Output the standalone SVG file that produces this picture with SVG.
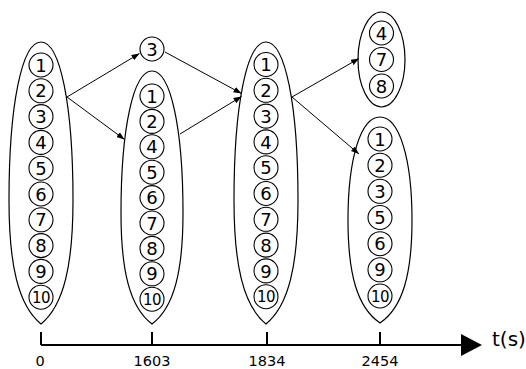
<svg xmlns="http://www.w3.org/2000/svg" width="526" height="369" viewBox="0 0 526 369">
<style>
.grp{fill:none;stroke:#000;stroke-width:1.2}
.c{fill:#fff;stroke:#000;stroke-width:1.1}
.n{font-family:"DejaVu Sans",sans-serif;font-size:18px;text-anchor:middle;fill:#000}
.n10{font-family:"DejaVu Sans",sans-serif;font-size:15px;text-anchor:middle;fill:#000;letter-spacing:-0.5px}
.ax{font-family:"DejaVu Sans",sans-serif;font-size:14.5px;text-anchor:middle;fill:#000}
.edge{fill:none;stroke:#000;stroke-width:1;marker-end:url(#ah)}
.axis{fill:none;stroke:#000;stroke-width:2}
</style>
<defs>
<marker id="ah" markerUnits="userSpaceOnUse" markerWidth="8" markerHeight="6" refX="8" refY="3" orient="auto">
<path d="M0,0 L8,3 L0,6 Z" fill="#000"/>
</marker>
</defs>

<g id="connectors">
<line class="edge" x1="67" y1="97" x2="139.5" y2="53.5"/>
<line class="edge" x1="67" y1="97" x2="124.5" y2="139.5"/>
<line class="edge" x1="165" y1="52" x2="241.5" y2="93.5"/>
<line class="edge" x1="180" y1="134" x2="241.5" y2="96.5"/>
<line class="edge" x1="292" y1="97" x2="359" y2="58.5"/>
<line class="edge" x1="292" y1="97" x2="359" y2="154"/>
</g>

<g id="group-0">
<path class="grp" d="M 41,42 C 60.2,42 73,105.2 73,200 C 73,264.5 64,305.4 41,324 C 18,305.4 9,264.5 9,200 C 9,105.2 21.8,42 41,42 Z"/>
<circle class="c" cx="41" cy="65" r="12"/><text class="n" x="41" y="71.6">1</text>
<circle class="c" cx="41" cy="90.8" r="12"/><text class="n" x="41" y="97.4">2</text>
<circle class="c" cx="41" cy="116.6" r="12"/><text class="n" x="41" y="123.2">3</text>
<circle class="c" cx="41" cy="142.4" r="12"/><text class="n" x="41" y="149">4</text>
<circle class="c" cx="41" cy="168.2" r="12"/><text class="n" x="41" y="174.8">5</text>
<circle class="c" cx="41" cy="194" r="12"/><text class="n" x="41" y="200.6">6</text>
<circle class="c" cx="41" cy="219.8" r="12"/><text class="n" x="41" y="226.4">7</text>
<circle class="c" cx="41" cy="245.6" r="12"/><text class="n" x="41" y="252.2">8</text>
<circle class="c" cx="41" cy="271.4" r="12"/><text class="n" x="41" y="278">9</text>
<circle class="c" cx="41" cy="297.2" r="12"/><text class="n10" x="41" y="302.7">10</text>
</g>

<g id="node-3">
<circle class="c" cx="152" cy="49" r="12"/><text class="n" x="152" y="55.6">3</text>
</g>

<g id="group-1603">
<path class="grp" d="M 152,71 C 170.6,71 183,127.8 183,213 C 183,270.7 174.3,307.4 152,324 C 129.7,307.4 121,270.7 121,213 C 121,127.8 133.4,71 152,71 Z"/>
<circle class="c" cx="152" cy="96" r="12"/><text class="n" x="152" y="102.6">1</text>
<circle class="c" cx="152" cy="121.4" r="12"/><text class="n" x="152" y="128">2</text>
<circle class="c" cx="152" cy="146.8" r="12"/><text class="n" x="152" y="153.4">4</text>
<circle class="c" cx="152" cy="172.2" r="12"/><text class="n" x="152" y="178.8">5</text>
<circle class="c" cx="152" cy="197.6" r="12"/><text class="n" x="152" y="204.2">6</text>
<circle class="c" cx="152" cy="223" r="12"/><text class="n" x="152" y="229.6">7</text>
<circle class="c" cx="152" cy="248.4" r="12"/><text class="n" x="152" y="255">8</text>
<circle class="c" cx="152" cy="273.8" r="12"/><text class="n" x="152" y="280.4">9</text>
<circle class="c" cx="152" cy="299.2" r="12"/><text class="n10" x="152" y="304.7">10</text>
</g>

<g id="group-1834">
<path class="grp" d="M 266,42 C 285.2,42 298,105.2 298,200 C 298,264.5 289,305.4 266,324 C 243,305.4 234,264.5 234,200 C 234,105.2 246.8,42 266,42 Z"/>
<circle class="c" cx="266" cy="64.5" r="12"/><text class="n" x="266" y="71.1">1</text>
<circle class="c" cx="266" cy="90.3" r="12"/><text class="n" x="266" y="96.9">2</text>
<circle class="c" cx="266" cy="116.1" r="12"/><text class="n" x="266" y="122.7">3</text>
<circle class="c" cx="266" cy="141.9" r="12"/><text class="n" x="266" y="148.5">4</text>
<circle class="c" cx="266" cy="167.7" r="12"/><text class="n" x="266" y="174.3">5</text>
<circle class="c" cx="266" cy="193.5" r="12"/><text class="n" x="266" y="200.1">6</text>
<circle class="c" cx="266" cy="219.3" r="12"/><text class="n" x="266" y="225.9">7</text>
<circle class="c" cx="266" cy="245.1" r="12"/><text class="n" x="266" y="251.7">8</text>
<circle class="c" cx="266" cy="270.9" r="12"/><text class="n" x="266" y="277.5">9</text>
<circle class="c" cx="266" cy="296.7" r="12"/><text class="n10" x="266" y="302.2">10</text>
</g>

<g id="group-2454-a">
<ellipse class="grp" cx="381.5" cy="59.5" rx="23.5" ry="47.5"/>
<circle class="c" cx="381.5" cy="33" r="12"/><text class="n" x="381.5" y="39.6">4</text>
<circle class="c" cx="381.5" cy="59.5" r="12"/><text class="n" x="381.5" y="66.1">7</text>
<circle class="c" cx="381.5" cy="86" r="12"/><text class="n" x="381.5" y="92.6">8</text>
</g>

<g id="group-2454-b">
<path class="grp" d="M 380,117 C 399.2,117 412,158.2 412,220 C 412,273.6 403,307.5 380,323 C 357,307.5 348,273.6 348,220 C 348,158.2 360.8,117 380,117 Z"/>
<circle class="c" cx="380" cy="139" r="12"/><text class="n" x="380" y="145.6">1</text>
<circle class="c" cx="380" cy="165.2" r="12"/><text class="n" x="380" y="171.8">2</text>
<circle class="c" cx="380" cy="191.3" r="12"/><text class="n" x="380" y="197.9">3</text>
<circle class="c" cx="380" cy="217.5" r="12"/><text class="n" x="380" y="224.1">5</text>
<circle class="c" cx="380" cy="243.7" r="12"/><text class="n" x="380" y="250.3">6</text>
<circle class="c" cx="380" cy="269.8" r="12"/><text class="n" x="380" y="276.4">9</text>
<circle class="c" cx="380" cy="296" r="12"/><text class="n10" x="380" y="301.5">10</text>
</g>

<g id="axis">
<line class="axis" x1="41" y1="345" x2="462" y2="345"/>
<path d="M461,334 L482,345 L461,356 Z" fill="#000"/>
<line class="axis" x1="41" y1="332" x2="41" y2="345"/>
<line class="axis" x1="152" y1="332" x2="152" y2="345"/>
<line class="axis" x1="267" y1="332" x2="267" y2="345"/>
<line class="axis" x1="380" y1="332" x2="380" y2="345"/>
<text class="ax" x="40" y="366">0</text>
<text class="ax" x="152" y="366">1603</text>
<text class="ax" x="267" y="366">1834</text>
<text class="ax" x="380" y="366">2454</text>
<text x="492" y="346" font-family="DejaVu Sans, sans-serif" font-size="20" fill="#000">t(s)</text>
</g>
</svg>
